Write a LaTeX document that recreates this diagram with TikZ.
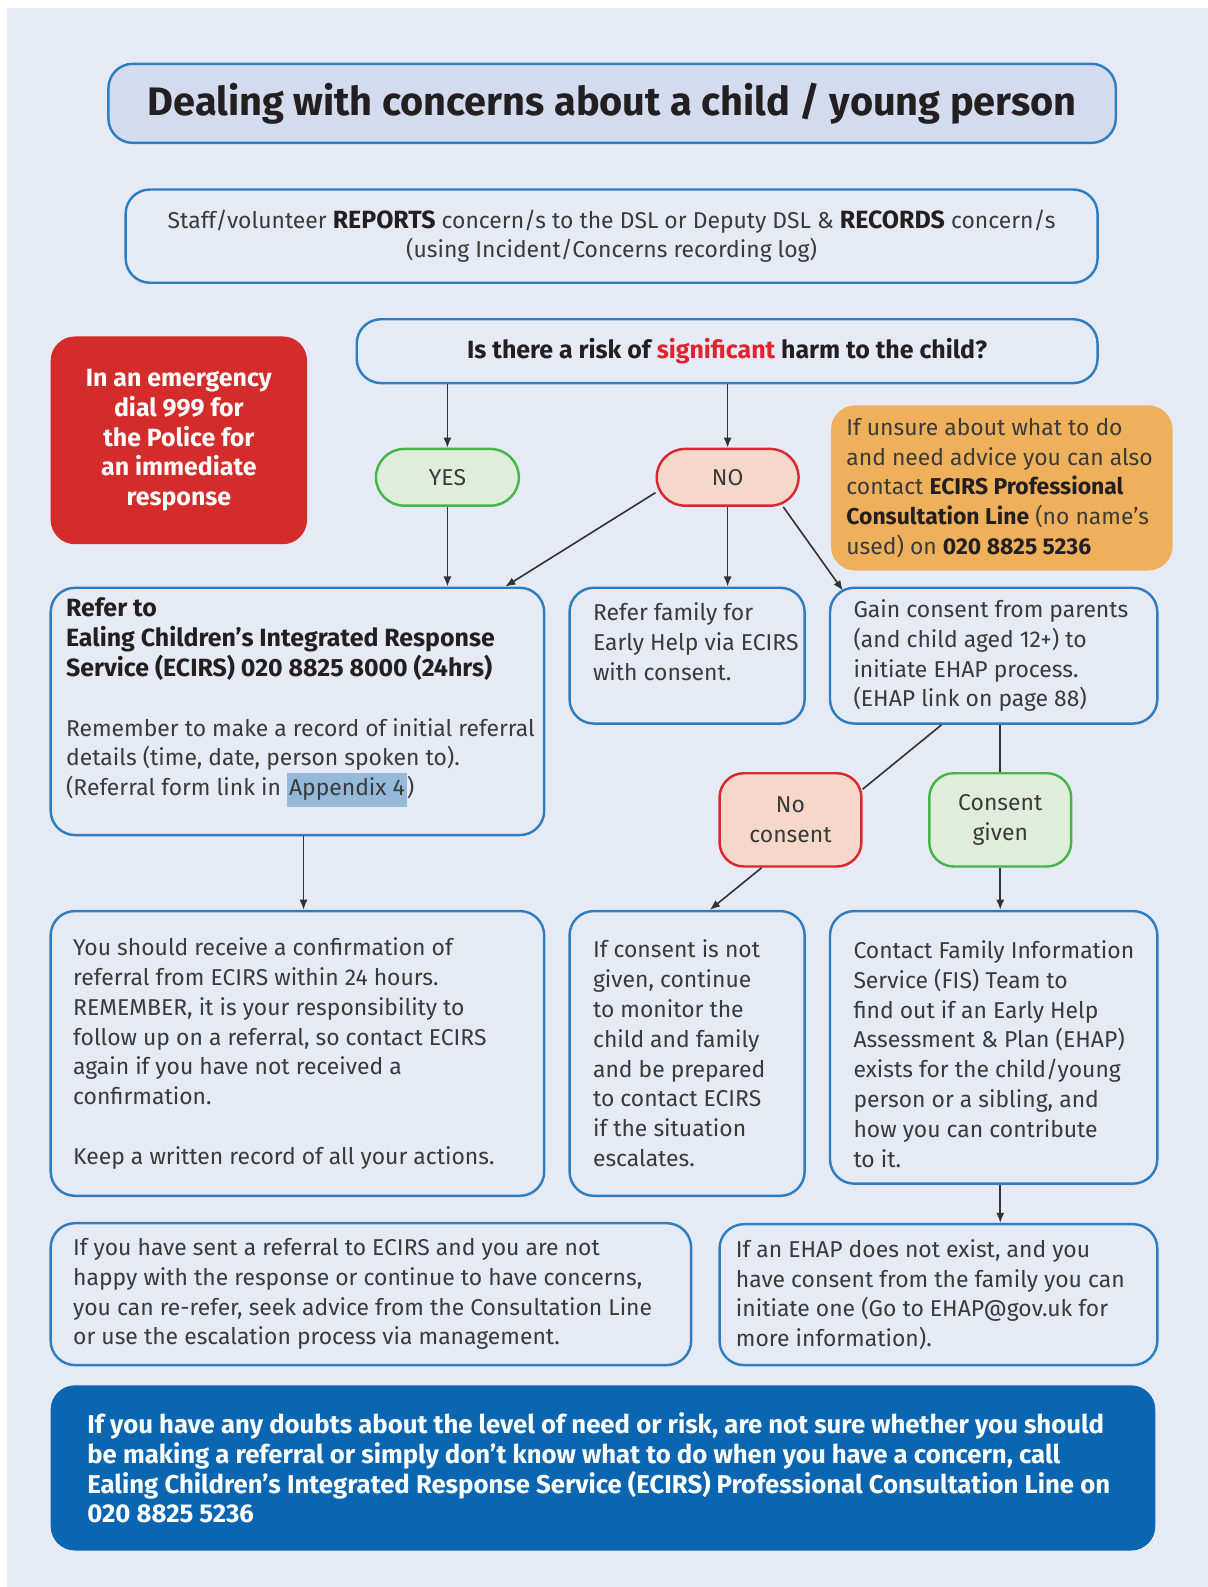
\documentclass[tikz,border=0pt]{standalone}
\usepackage{fontspec}
\setmainfont{Fira Sans}
\usetikzlibrary{arrows.meta}

\definecolor{page}{HTML}{E6EAF5}
\definecolor{titlefill}{HTML}{D3DCEE}
\definecolor{edge}{HTML}{2F7DC1}
\definecolor{txt}{HTML}{3A3A3A}
\definecolor{ink}{HTML}{231F20}
\definecolor{alarm}{HTML}{D42B2B}
\definecolor{sig}{HTML}{E0242F}
\definecolor{okline}{HTML}{45B549}
\definecolor{okfill}{HTML}{E1EDDB}
\definecolor{noline}{HTML}{D9272E}
\definecolor{nofill}{HTML}{F6D8CB}
\definecolor{advice}{HTML}{EFB05B}
\definecolor{deep}{HTML}{0B66B2}
\definecolor{hl}{HTML}{94B9DB}
\definecolor{wire}{HTML}{333333}

\newcommand\bodyfont{\fontsize{11.3pt}{14.7pt}\selectfont}
\newcommand\boldfont{\fontsize{12.3pt}{14.7pt}\selectfont\bfseries}
\newcommand\keyword[1]{{\boldfont\color{ink}#1}}
\setlength\fboxsep{1pt}

\begin{document}
\begin{tikzpicture}[x=0.5pt, y=-0.5pt,
    box/.style = {draw=edge, line width=1.2pt, rounded corners=12pt, inner sep=0pt},
    pill/.style = {line width=1.2pt, rounded corners=14pt, inner sep=0pt, text=txt, font=\bodyfont, align=center},
    yesbox/.style = {pill, draw=okline, fill=okfill},
    nobox/.style = {pill, draw=noline, fill=nofill},
    words/.style = {right, inner sep=0pt, align=left, text=txt, font=\bodyfont},
    arr/.style = {draw=wire, line width=0.8pt, -{Latex[length=5pt,width=4pt]}},
    link/.style = {draw=wire, line width=0.8pt}]

    \useasboundingbox (0,0) rectangle (1192,1566);
    \fill[white] (0,0) rectangle (1192,1566);
    \fill[page] (7,8) rectangle (1192,1566);

    % top of the page
    \node[box, fill=titlefill, minimum width=497pt, minimum height=39pt, text=ink,
        font=\fontsize{19.6pt}{22pt}\selectfont\bfseries] (title) at (604,102)
        {Dealing with concerns about a child / young person};
    \node[box, minimum width=479.5pt, minimum height=46pt, align=center, text=txt, font=\bodyfont] (staff) at (603.5,233)
        {Staff/volunteer \keyword{REPORTS} concern/s to the DSL or Deputy DSL \& \keyword{RECORDS} concern/s\\
         (using Incident/Concerns recording log)};

    \node[box, draw=none, fill=alarm, minimum width=126.5pt, minimum height=102.5pt, align=center,
        text=white, font=\boldfont] (emergency) at (176.5,434.5)
        {In an emergency\\dial 999 for\\the Police for\\an immediate\\response};
    \node[box, minimum width=365.5pt, minimum height=31.5pt, text=ink, font=\boldfont] (risk) at (717.5,346.5)
        {Is there a risk of \textcolor{sig}{significant} harm to the child?};

    \node[yesbox, minimum width=70.5pt, minimum height=28pt] (yes) at (441.5,471) {YES};
    \node[nobox, minimum width=70pt, minimum height=28pt] (no) at (718,471) {NO};

    \node[box, draw=none, fill=advice, minimum width=168.5pt, minimum height=81.5pt] (advice) at (988.5,481.5) {};
    \node[words] (advice text) at ([xshift=8pt]advice.west)
        {If unsure about what to do\\and need advice you can also\\contact \textbf{\color{ink}ECIRS Professional}\\
         \textbf{\color{ink}Consultation Line} (no name’s\\used) on \textbf{\color{ink}020 8825 5236}};

    % second row
    \node[box, minimum width=243.5pt, minimum height=122pt] (refer) at (293.5,702) {};
    \node[words] (refer text) at ([xshift=8pt,yshift=4.5pt]refer.west)
        {\keyword{Refer to}\\
         \keyword{Ealing Children’s Integrated Response}\\
         \keyword{Service (ECIRS) 020 8825 8000 (24hrs)}\\[14.7pt]
         Remember to make a record of initial referral\\
         details (time, date, person spoken to).\\
         (Referral form link in \colorbox{hl}{\strut Appendix 4})};

    \node[box, minimum width=116pt, minimum height=67pt] (family) at (678,647) {};
    \node[words] (family text) at ([xshift=12pt,yshift=6.75pt]family.west)
        {Refer family for\\Early Help via ECIRS\\with consent.};

    \node[box, minimum width=161.5pt, minimum height=67pt] (gain) at (980.5,647) {};
    \node[words] (gain text) at ([xshift=12pt]gain.west)
        {Gain consent from parents\\(and child aged 12+) to\\initiate EHAP process.\\(EHAP link on page 88)};

    \node[nobox, rounded corners=12pt, minimum width=70pt, minimum height=46pt] (refused) at (780,809) {No\\consent};
    \node[yesbox, rounded corners=12pt, minimum width=70pt, minimum height=46pt] (given) at (987,809) {Consent\\given};

    % third row
    \node[box, minimum width=243.5pt, minimum height=140.5pt] (confirm) at (293.5,1039.5) {};
    \node[words] (confirm text) at ([xshift=11.5pt]confirm.west)
        {You should receive a confirmation of\\referral from ECIRS within 24 hours.\\
         REMEMBER, it is your responsibility to\\follow up on a referral, so contact ECIRS\\
         again if you have not received a\\confirmation.\\[14.7pt]
         Keep a written record of all your actions.};

    \node[box, minimum width=116pt, minimum height=140.5pt] (monitor) at (678,1039.5) {};
    \node[words] (monitor text) at ([xshift=12pt]monitor.west)
        {If consent is not\\given, continue\\to monitor the\\child and family\\and be prepared\\
         to contact ECIRS\\if the situation\\escalates.};

    \node[box, minimum width=161.5pt, minimum height=134.5pt] (fis) at (980.5,1033.5) {};
    \node[words] (fis text) at ([xshift=12pt,yshift=-3.25pt]fis.west)
        {Contact Family Information\\Service (FIS) Team to\\find out if an Early Help\\
         Assessment \& Plan (EHAP)\\exists for the child/young\\person or a sibling, and\\
         how you can contribute\\to it.};

    % bottom
    \node[box, minimum width=316pt, minimum height=70pt] (rerefer) at (366,1277) {};
    \node[words] (rerefer text) at ([xshift=11.5pt]rerefer.west)
        {If you have sent a referral to ECIRS and you are not\\
         happy with the response or continue to have concerns,\\
         you can re-refer, seek advice from the Consultation Line\\
         or use the escalation process via management.};

    \node[box, minimum width=216pt, minimum height=69.5pt] (initiate) at (926,1277.5) {};
    \node[words] (initiate text) at ([xshift=8.5pt]initiate.west)
        {If an EHAP does not exist, and you\\have consent from the family you can\\
         initiate one (Go to EHAP@gov.uk for\\more information).};

    \node[box, draw=none, fill=deep, minimum width=545pt, minimum height=81.5pt] (doubts) at (595,1448.5) {};
    \node[words, text=white, font=\fontsize{12.7pt}{14.7pt}\selectfont\bfseries] (doubts text) at ([xshift=18.5pt]doubts.west)
        {If you have any doubts about the level of need or risk, are not sure whether you should\\
         be making a referral or simply don’t know what to do when you have a concern, call\\
         Ealing Children’s Integrated Response Service (ECIRS) Professional Consultation Line on\\
         020 8825 5236};

    % connectors
    \draw[arr] (risk.south -| yes.north) -- (yes.north);
    \draw[arr] (risk.south -| no.north) -- (no.north);
    \draw[arr] (yes.south) -- (yes.south |- refer.north);
    \draw[arr] (no.192) -- (refer.31);
    \draw[arr] (no.south) -- (no.south |- family.north);
    \draw[arr] (no.-28) -- ([xshift=7pt,yshift=-2pt]gain.north west);
    \draw[link] (gain.233) -- (refused.23);
    \draw[arr] (refused.239) -- (monitor.81);
    \draw[link] (gain.south -| given.north) -- (given.north);
    \draw[arr] (given.south) -- (given.south |- fis.north);
    \draw[arr] ([xshift=3pt]refer.south) -- ([xshift=3pt]confirm.north);
    \draw[arr] (fis.south -| given.south) -- (initiate.north -| given.south);

\end{tikzpicture}
\end{document}
